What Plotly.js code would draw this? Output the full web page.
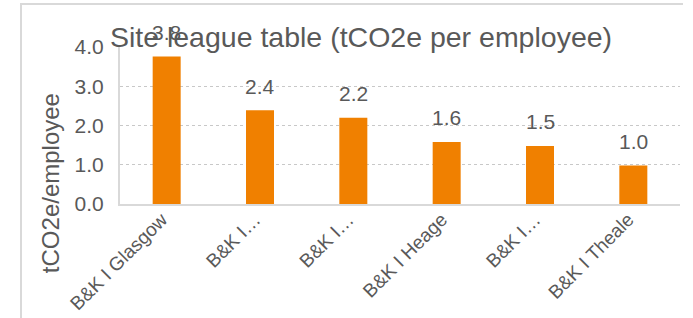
<!DOCTYPE html>
<html>
<head>
<meta charset="utf-8">
<script src="https://cdn.plot.ly/plotly-3.0.1.min.js"></script>
<style>
  html, body { margin: 0; padding: 0; background: #ffffff; }
  #frame { position: absolute; left: 20px; top: 3px; width: 663px; height: 320px;
           border-top: 2px solid #d9d9d9; border-left: 2px solid #d9d9d9; box-sizing: border-box; }
  #chart { position: absolute; left: 0; top: 0; width: 693px; height: 318px; }
</style>
</head>
<body>
<div id="frame"></div>
<div id="chart"></div>
<script>
const categories = ["B&K I Glasgow", "B&K I…", "B&K I…", "B&K I Heage", "B&K I…", "B&K I Theale"];
const siteIds = ["s1", "s2", "s3", "s4", "s5", "s6"];
const values = [3.76, 2.39, 2.2, 1.58, 1.48, 0.98];
const labels = ["3.8", "2.4", "2.2", "1.6", "1.5", "1.0"];
const yTickVals = [0, 1, 2, 3, 4];
const yTickText = ["0.0", "1.0", "2.0", "3.0", "4.0"];

const font = "Liberation Sans, Arial, Helvetica, sans-serif";
const textColor = "#595959";

const trace = {
  type: "bar",
  x: siteIds,
  y: values,
  marker: { color: "#F08000" },
  width: 0.3,
  hoverinfo: "none"
};

const annotations = siteIds.map((id, i) => ({
  x: id, y: values[i], xref: "x", yref: "y",
  text: labels[i], showarrow: false,
  yanchor: "middle", yshift: 24,
  font: { family: font, size: 21, color: textColor }
}));

annotations.push({
  xref: "paper", yref: "container",
  x: 0, y: 1 - 149 / 318,
  xshift: -70,
  text: "tCO2e/employee", textangle: -90, showarrow: false,
  xanchor: "center", yanchor: "middle",
  font: { family: font, size: 24, color: textColor }
});

const layout = {
  width: 693, height: 318,
  margin: { l: 120, r: 13, t: 47, b: 114 },
  paper_bgcolor: "rgba(0,0,0,0)",
  plot_bgcolor: "rgba(0,0,0,0)",
  showlegend: false,
  title: {
    text: "Site league table (tCO2e per employee)",
    x: 361 / 693, xref: "container", xanchor: "center",
    y: 1 - 37 / 318, yref: "container", yanchor: "middle",
    font: { family: font, size: 28.5, color: textColor }
  },
  xaxis: {
    type: "category",
    tickvals: siteIds,
    ticktext: categories,
    tickangle: -45,
    tickfont: { family: font, size: 19, color: textColor },
    ticklabelshift: -5,
    ticklabelstandoff: -5,
    showgrid: false,
    showline: true, linecolor: "#d9d9d9", linewidth: 2,
    ticks: "", fixedrange: true
  },
  yaxis: {
    range: [0, 4],
    tickvals: yTickVals,
    ticktext: yTickText,
    tickfont: { family: font, size: 21, color: textColor },
    showgrid: true, gridcolor: "#c8c8c8", gridwidth: 1, griddash: "dot",
    showline: true, linecolor: "#d9d9d9", linewidth: 2,
    zeroline: false, ticks: "", ticklabelstandoff: 10, fixedrange: true
  },
  annotations: annotations
};

Plotly.newPlot("chart", [trace], layout, { displayModeBar: false, staticPlot: true });
</script>
</body>
</html>
